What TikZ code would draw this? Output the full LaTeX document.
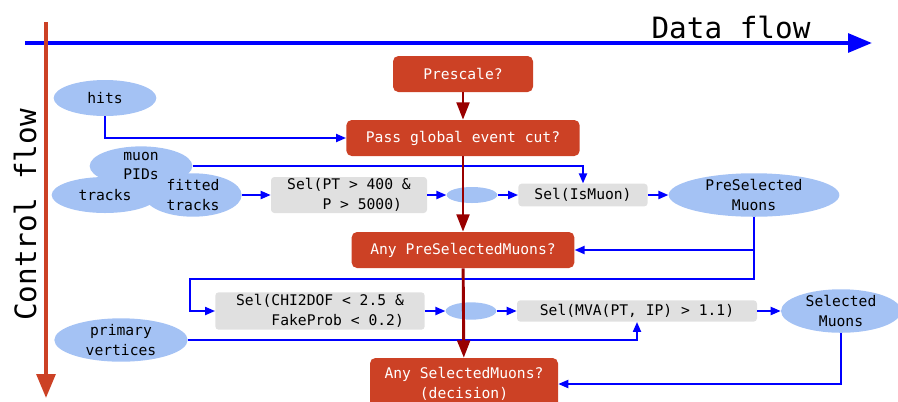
\documentclass[tikz,border=0pt]{standalone}
\usepackage{fontspec}
\setmainfont{DejaVu Sans Mono}
\usetikzlibrary{arrows.meta,shapes.geometric}
\definecolor{boxred}{HTML}{CC4125}
\definecolor{arrowred}{HTML}{990000}
\definecolor{datablue}{HTML}{A4C2F4}
\definecolor{selgray}{HTML}{E0E0E0}
\begin{document}
\begin{tikzpicture}[x=0.75pt, y=-0.75pt,
    every node/.style={font=\fontsize{11}{14.5}\selectfont, align=center},
    decision/.style={rectangle, rounded corners=4pt, fill=boxred, text=white, inner sep=0pt},
    selbox/.style={rectangle, rounded corners=2.5pt, fill=selgray, inner sep=0pt},
    datum/.style={ellipse, fill=datablue, inner sep=0pt},
    flow/.style={blue, line width=1.5pt, -{Triangle[length=7.5pt,width=6pt]}},
    ctrl/.style={arrowred, line width=2.2pt, -{Triangle[length=13pt,width=9.5pt]}}]
    \useasboundingbox (0,0) rectangle (898,401);

    % Achsen
    \draw[blue, line width=3pt, -{Triangle[length=18pt,width=14pt]}] (25,43) -- (872,43);
    \node (dataflow) at (731,27) {\fontsize{22}{26}\selectfont Data flow};
    \draw[boxred, line width=3pt, -{Triangle[length=18pt,width=14pt]}] (46,22) -- (46,398);
    \node[rotate=90] (ctrlflow) at (25,215) {\fontsize{22}{26}\selectfont Control flow};

    % Entscheidungen
    \node[decision, minimum width=105pt, minimum height=27pt] (prescale) at (463,74) {Prescale?};
    \node[decision, minimum width=175pt, minimum height=27pt] (pass) at (463,138) {Pass global event cut?};
    \node[decision, minimum width=167pt, minimum height=27pt] (anypre) at (463,250) {Any PreSelectedMuons?};
    \node[decision, minimum width=141pt, minimum height=39pt] (anysel) at (464,384) {Any SelectedMuons?\\(decision)};

    % Daten
    \node[datum, minimum width=77pt, minimum height=27pt] (hits) at (105,98) {hits};
    \node[datum, minimum width=80pt, minimum height=27pt] (tracks) at (105,195) {tracks};
    \node[datum, minimum width=77pt, minimum height=27pt] (muon) at (141,166) {muon\\PIDs};
    \node[datum, minimum width=73pt, minimum height=27pt] (fitted) at (193,195) {fitted\\tracks};
    \node[datum, minimum width=38pt, minimum height=12pt] (dot1) at (472,195) {};
    \node[datum, minimum width=128pt, minimum height=27pt] (presel) at (754,195) {PreSelected\\Muons};
    \node[datum, minimum width=100pt, minimum height=27pt] (pv) at (121,340) {primary\\vertices};
    \node[datum, minimum width=38pt, minimum height=13pt] (dot2) at (471,311) {};
    \node[datum, minimum width=90pt, minimum height=27pt] (selmuons) at (841,311) {Selected\\Muons};

    % Selektionen
    \node[selbox, minimum width=117pt, minimum height=27pt, align=left] (selpt) at (349,195) {Sel(PT > 400 \&\\\phantom{Sel(}P > 5000)};
    \node[selbox, minimum width=97pt, minimum height=17pt] (ismuon) at (583,195) {Sel(IsMuon)};
    \node[selbox, minimum width=157pt, minimum height=28pt, align=left] (selchi) at (320,311) {Sel(CHI2DOF < 2.5 \&\\\phantom{Sel(}FakeProb < 0.2)};
    \node[selbox, minimum width=180pt, minimum height=16pt] (selmva) at (637,311) {Sel(MVA(PT, IP) > 1.1)};

    % Datenfluss
    \coordinate (turnR) at (754,279);
    \coordinate (turnL) at (190,279);
    \draw[flow] (hits.south) |- (pass.west);
    \draw[flow] (muon.east) -| (ismuon.north);
    \draw[flow] (fitted.east) -- (selpt.west);
    \draw[flow] (selpt.east) -- (dot1.west);
    \draw[flow] (dot1.east) -- (ismuon.west);
    \draw[flow] (ismuon.east) -- (presel.west);
    \draw[flow] (presel.south) |- (anypre.east);
    \draw[flow] (presel.south) -- (turnR) -- (turnL) |- (selchi.west);
    \draw[flow] (selchi.east) -- (dot2.west);
    \draw[flow] (dot2.east) -- (selmva.west);
    \draw[flow] (selmva.east) -- (selmuons.west);
    \draw[flow] (pv.east) -| (selmva.south);
    \draw[flow] (selmuons.south) |- (anysel.east);

    % Kontrollfluss
    \draw[ctrl] (prescale) -- (pass);
    \draw[ctrl] (pass) -- (anypre);
    \draw[ctrl] (anypre) -- (anysel);
\end{tikzpicture}
\end{document}
